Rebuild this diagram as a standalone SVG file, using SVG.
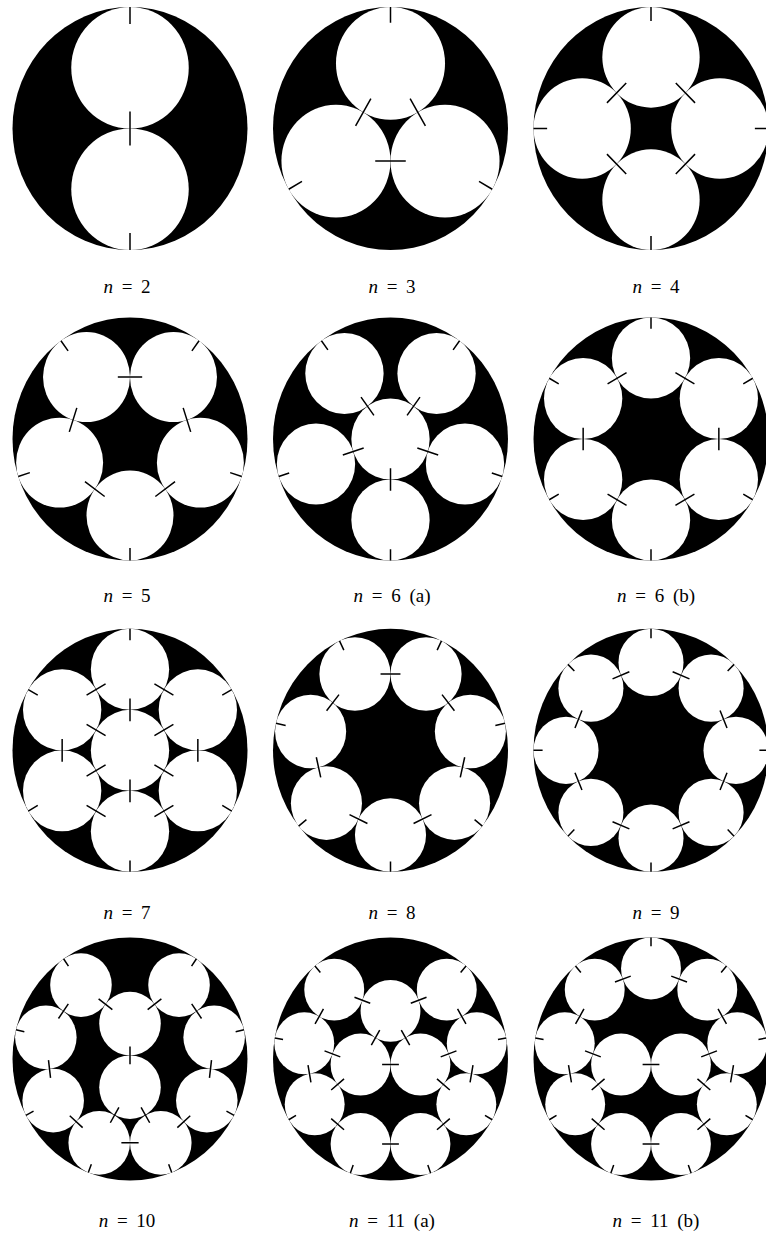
<svg xmlns="http://www.w3.org/2000/svg" width="766" height="1234" viewBox="0 0 766 1234">
<style>
.d{fill:#000}
.w{fill:#fff}
.t{fill:none;stroke:#000;stroke-width:1.5;vector-effect:non-scaling-stroke}
.lb{font-family:"Liberation Serif","DejaVu Serif",serif;font-size:19px;fill:#000;text-anchor:middle;word-spacing:4px}
.i{font-style:italic}
</style>
<rect width="766" height="1234" fill="#fff"/>

<g id="n2" transform="translate(130,128.5) scale(1.175,1.215)">
<circle class="d" r="100"/>
<circle class="w" cx="0" cy="-50" r="50"/><circle class="w" cx="0" cy="50" r="50"/>
<path class="t" d="M0,-100V-86M0,100V86M0,-14V14"/>
</g>

<g id="n3" transform="translate(390.5,128.5) scale(1.175,1.215)">
<circle class="d" r="100"/>
<circle class="w" cx="0" cy="-53.59" r="46.41"/><circle class="w" cx="46.41" cy="26.8" r="46.41"/><circle class="w" cx="-46.41" cy="26.8" r="46.41"/>
<path class="t" d="M0,-100V-87M86.6,50L75.34,43.5M-86.6,50L-75.34,43.5M16.7,-24.66L29.7,-2.14M-16.7,-24.66L-29.7,-2.14M-13,26.8H13"/>
</g>

<g id="n4" transform="translate(651,128.5) scale(1.175,1.215)">
<circle class="d" r="100"/>
<circle class="w" cx="0" cy="-58.58" r="41.42"/><circle class="w" cx="58.58" cy="0" r="41.42"/><circle class="w" cx="0" cy="58.58" r="41.42"/><circle class="w" cx="-58.58" cy="0" r="41.42"/>
<path class="t" d="M0,-100V-88.4M0,100V88.4M100,0H88.4M-100,0H-88.4M21.09,-37.49L37.49,-21.09M-21.09,-37.49L-37.49,-21.09M21.09,37.49L37.49,21.09M-21.09,37.49L-37.49,21.09"/>
</g>

<g id="n5" transform="translate(130,439) scale(1.175,1.215)">
<circle class="d" r="100"/>
<circle class="w" cx="0" cy="62.98" r="37.02"/><circle class="w" cx="59.9" cy="19.46" r="37.02"/><circle class="w" cx="-59.9" cy="19.46" r="37.02"/><circle class="w" cx="37.02" cy="-50.95" r="37.02"/><circle class="w" cx="-37.02" cy="-50.95" r="37.02"/>
<path class="t" d="M0,100V89.63M95.11,30.9L85.24,27.7M-95.11,30.9L-85.24,27.7M58.78,-80.9L52.68,-72.51M-58.78,-80.9L-52.68,-72.51M-10.37,-50.95H10.37M45.26,-25.6L51.66,-5.88M-45.26,-25.6L-51.66,-5.88M21.56,47.32L38.34,35.12M-21.56,47.32L-38.34,35.12"/>
</g>

<g id="n6a" transform="translate(390.5,439) scale(1.175,1.215)">
<circle class="d" r="100"/>
<circle class="w" cx="0" cy="0" r="33.33"/><circle class="w" cx="0" cy="66.67" r="33.33"/><circle class="w" cx="63.41" cy="20.6" r="33.33"/><circle class="w" cx="-63.41" cy="20.6" r="33.33"/><circle class="w" cx="39.19" cy="-53.94" r="33.33"/><circle class="w" cx="-39.19" cy="-53.94" r="33.33"/>
<path class="t" d="M0,100V90.67M95.11,30.9L86.23,28.02M-95.11,30.9L-86.23,28.02M58.78,-80.9L53.29,-73.35M-58.78,-80.9L-53.29,-73.35M0,24V42.67M22.83,7.42L40.58,13.19M-22.83,7.42L-40.58,13.19M14.11,-19.42L25.08,-34.52M-14.11,-19.42L-25.08,-34.52"/>
</g>

<g id="n6b" transform="translate(651,439) scale(1.175,1.215)">
<circle class="d" r="100"/>
<circle class="w" cx="0" cy="-66.67" r="33.33"/><circle class="w" cx="57.74" cy="-33.33" r="33.33"/><circle class="w" cx="57.74" cy="33.33" r="33.33"/><circle class="w" cx="0" cy="66.67" r="33.33"/><circle class="w" cx="-57.74" cy="33.33" r="33.33"/><circle class="w" cx="-57.74" cy="-33.33" r="33.33"/>
<path class="t" d="M0,-100V-90.67M86.6,-50L78.52,-45.33M86.6,50L78.52,45.33M0,100V90.67M-86.6,50L-78.52,45.33M-86.6,-50L-78.52,-45.33M20.79,-54.67L36.95,-45.33M57.74,-9.33V9.33M36.95,45.33L20.79,54.67M-36.95,45.33L-20.79,54.67M-57.74,-9.33V9.33M-20.79,-54.67L-36.95,-45.33"/>
</g>

<g id="n7" transform="translate(130,750.3) scale(1.175,1.215)">
<circle class="d" r="100"/>
<circle class="w" cx="0" cy="0" r="33.33"/><circle class="w" cx="0" cy="-66.67" r="33.33"/><circle class="w" cx="57.74" cy="-33.33" r="33.33"/><circle class="w" cx="57.74" cy="33.33" r="33.33"/><circle class="w" cx="0" cy="66.67" r="33.33"/><circle class="w" cx="-57.74" cy="33.33" r="33.33"/><circle class="w" cx="-57.74" cy="-33.33" r="33.33"/>
<path class="t" d="M0,-100V-90.67M86.6,-50L78.52,-45.33M86.6,50L78.52,45.33M0,100V90.67M-86.6,50L-78.52,45.33M-86.6,-50L-78.52,-45.33M20.79,-54.67L36.95,-45.33M57.74,-9.33V9.33M36.95,45.33L20.79,54.67M-36.95,45.33L-20.79,54.67M-57.74,-9.33V9.33M-20.79,-54.67L-36.95,-45.33M0,-24V-42.67M20.78,-12L36.95,-21.33M20.78,12L36.95,21.33M0,24V42.67M-20.78,12L-36.95,21.33M-20.78,-12L-36.95,-21.33"/>
</g>

<g id="n8" transform="translate(390.5,750.3) scale(1.175,1.215)">
<circle class="d" r="100"/>
<circle class="w" cx="0" cy="69.74" r="30.26"/><circle class="w" cx="54.53" cy="43.48" r="30.26"/><circle class="w" cx="-54.53" cy="43.48" r="30.26"/><circle class="w" cx="67.99" cy="-15.52" r="30.26"/><circle class="w" cx="-67.99" cy="-15.52" r="30.26"/><circle class="w" cx="30.26" cy="-62.83" r="30.26"/><circle class="w" cx="-30.26" cy="-62.83" r="30.26"/>
<path class="t" d="M0,100V91.53M78.18,62.35L71.56,57.07M-78.18,62.35L-71.56,57.07M97.49,-22.25L89.24,-20.37M-97.49,-22.25L-89.24,-20.37M43.39,-90.1L39.71,-82.47M-43.39,-90.1L-39.71,-82.47M-8.47,-62.83H8.47M43.84,-45.79L54.4,-32.55M-43.84,-45.79L-54.4,-32.55M63.14,5.72L59.38,22.24M-63.14,5.72L-59.38,22.24M34.89,52.94L19.63,60.28M-34.89,52.94L-19.63,60.28"/>
</g>

<g id="n9" transform="translate(651,750.3) scale(1.175,1.215)">
<circle class="d" r="100"/>
<circle class="w" cx="0" cy="-72.32" r="27.68"/><circle class="w" cx="51.14" cy="-51.14" r="27.68"/><circle class="w" cx="72.32" cy="0" r="27.68"/><circle class="w" cx="51.14" cy="51.14" r="27.68"/><circle class="w" cx="0" cy="72.32" r="27.68"/><circle class="w" cx="-51.14" cy="51.14" r="27.68"/><circle class="w" cx="-72.32" cy="0" r="27.68"/><circle class="w" cx="-51.14" cy="-51.14" r="27.68"/>
<path class="t" d="M0,-100V-92.25M70.71,-70.71L65.23,-65.23M100,0H92.25M70.71,70.71L65.23,65.23M0,100V92.25M-70.71,70.71L-65.23,65.23M-100,0H-92.25M-70.71,-70.71L-65.23,-65.23M18.41,-64.7L32.73,-58.76M58.76,-32.73L64.7,-18.41M64.7,18.41L58.76,32.73M32.73,58.76L18.41,64.7M-32.73,58.76L-18.41,64.7M-64.7,18.41L-58.76,32.73M-58.76,-32.73L-64.7,-18.41M-18.41,-64.7L-32.73,-58.76"/>
</g>

<g id="n10" transform="translate(130,1059) scale(1.175,1.215)">
<circle class="d" r="100"/>
<circle class="w" cx="-26.2" cy="68.99" r="26.2"/><circle class="w" cx="26.2" cy="68.99" r="26.2"/><circle class="w" cx="-65.38" cy="34.21" r="26.2"/><circle class="w" cx="65.38" cy="34.21" r="26.2"/><circle class="w" cx="-71.62" cy="-17.82" r="26.2"/><circle class="w" cx="71.62" cy="-17.82" r="26.2"/><circle class="w" cx="-41.73" cy="-60.87" r="26.2"/><circle class="w" cx="41.73" cy="-60.87" r="26.2"/><circle class="w" cx="0" cy="-29.18" r="26.2"/><circle class="w" cx="0" cy="23.22" r="26.2"/>
<path class="t" d="M-35.5,93.49L-32.9,86.62M35.5,93.49L32.9,86.62M-88.6,46.36L-82.09,42.95M88.6,46.36L82.09,42.95M-97.04,-24.15L-89.92,-22.38M97.04,-24.15L89.92,-22.38M-56.55,-82.48L-52.4,-76.42M56.55,-82.48L52.4,-76.42M-7.34,68.99H7.34M-40.3,56.47L-51.28,46.73M40.3,56.47L51.28,46.73M-67.63,15.49L-69.37,0.91M67.63,15.49L69.37,0.91M-60.87,-33.32L-52.49,-45.38M60.87,-33.32L52.49,-45.38M-26.71,-49.46L-15.02,-40.59M26.71,-49.46L15.02,-40.59M0,-10.32V4.36M-9.45,39.74L-16.75,52.47M9.45,39.74L16.75,52.47"/>
</g>

<g id="n11a" transform="translate(390.5,1059) scale(1.175,1.215)">
<circle class="d" r="100"/>
<circle class="w" cx="-25.48" cy="70.02" r="25.49"/><circle class="w" cx="25.48" cy="70.02" r="25.49"/><circle class="w" cx="-64.53" cy="37.26" r="25.49"/><circle class="w" cx="64.53" cy="37.26" r="25.49"/><circle class="w" cx="-73.38" cy="-12.94" r="25.49"/><circle class="w" cx="73.38" cy="-12.94" r="25.49"/><circle class="w" cx="-47.89" cy="-57.08" r="25.49"/><circle class="w" cx="47.89" cy="-57.08" r="25.49"/><circle class="w" cx="0" cy="-39.61" r="25.49"/><circle class="w" cx="-25.49" cy="4.54" r="25.49"/><circle class="w" cx="25.49" cy="4.54" r="25.49"/>
<path class="t" d="M-34.2,93.97L-31.76,87.26M34.2,93.97L31.76,87.26M-86.6,50L-80.42,46.43M86.6,50L80.42,46.43M-98.48,-17.37L-91.45,-16.13M98.48,-17.37L91.45,-16.13M-64.28,-76.6L-59.69,-71.13M64.28,-76.6L59.69,-71.13M-7.14,70.02H7.14M-39.54,58.23L-50.48,49.05M39.54,58.23L50.48,49.05M-67.72,19.19L-70.2,5.13M67.72,19.19L70.2,5.13M-64.21,-28.83L-57.06,-41.19M64.21,-28.83L57.06,-41.19M-30.65,-50.79L-17.24,-45.9M30.65,-50.79L17.24,-45.9M-9.18,-23.72L-16.32,-11.35M9.18,-23.72L16.32,-11.35M-7.14,4.54H7.14M-56.14,-6.65L-42.73,-1.75M56.14,-6.65L42.73,-1.75M-39.54,16.31L-50.48,25.49M39.54,16.31L50.48,25.49"/>
</g>

<g id="n11b" transform="translate(651,1059) scale(1.175,1.215)">
<circle class="d" r="100"/>
<circle class="w" cx="-25.48" cy="70.02" r="25.49"/><circle class="w" cx="25.48" cy="70.02" r="25.49"/><circle class="w" cx="-64.53" cy="37.26" r="25.49"/><circle class="w" cx="64.53" cy="37.26" r="25.49"/><circle class="w" cx="-73.38" cy="-12.94" r="25.49"/><circle class="w" cx="73.38" cy="-12.94" r="25.49"/><circle class="w" cx="-47.89" cy="-57.08" r="25.49"/><circle class="w" cx="47.89" cy="-57.08" r="25.49"/><circle class="w" cx="0" cy="-74.51" r="25.49"/><circle class="w" cx="-25.49" cy="4.54" r="25.49"/><circle class="w" cx="25.49" cy="4.54" r="25.49"/>
<path class="t" d="M-34.2,93.97L-31.76,87.26M34.2,93.97L31.76,87.26M-86.6,50L-80.42,46.43M86.6,50L80.42,46.43M-98.48,-17.37L-91.45,-16.13M98.48,-17.37L91.45,-16.13M-64.28,-76.6L-59.69,-71.13M64.28,-76.6L59.69,-71.13M-7.14,70.02H7.14M-39.54,58.23L-50.48,49.05M39.54,58.23L50.48,49.05M-67.72,19.19L-70.2,5.13M67.72,19.19L70.2,5.13M-64.21,-28.83L-57.06,-41.19M64.21,-28.83L57.06,-41.19M-7.14,4.54H7.14M-56.14,-6.65L-42.73,-1.75M56.14,-6.65L42.73,-1.75M-39.54,16.31L-50.48,25.49M39.54,16.31L50.48,25.49M0,-100V-92.86M-17.24,-68.24L-30.65,-63.35M17.24,-68.24L30.65,-63.35"/>
</g>

<g id="labels" class="lb">
<text x="127" y="293"><tspan class="i">n</tspan> = 2</text>
<text x="392" y="293"><tspan class="i">n</tspan> = 3</text>
<text x="656" y="293"><tspan class="i">n</tspan> = 4</text>
<text x="127" y="602"><tspan class="i">n</tspan> = 5</text>
<text x="392" y="602"><tspan class="i">n</tspan> = 6 (a)</text>
<text x="656" y="602"><tspan class="i">n</tspan> = 6 (b)</text>
<text x="127" y="919"><tspan class="i">n</tspan> = 7</text>
<text x="392" y="919"><tspan class="i">n</tspan> = 8</text>
<text x="656" y="919"><tspan class="i">n</tspan> = 9</text>
<text x="127" y="1227"><tspan class="i">n</tspan> = 10</text>
<text x="392" y="1227"><tspan class="i">n</tspan> = 11 (a)</text>
<text x="656" y="1227"><tspan class="i">n</tspan> = 11 (b)</text>
</g>
</svg>
